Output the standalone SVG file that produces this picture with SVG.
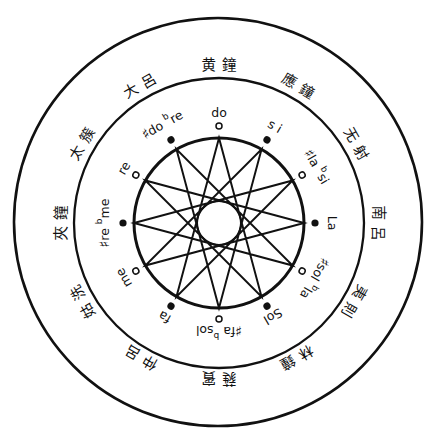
<svg xmlns="http://www.w3.org/2000/svg" width="440" height="436" viewBox="0 0 440 436">
<style>
.ring{fill:none;stroke:#111;}
.star{fill:none;stroke:#111;stroke-width:2;stroke-linejoin:miter;}
.full{fill:#111;}
.open{fill:#fff;stroke:#111;stroke-width:1.5;}
.sf{font-family:"DejaVu Sans","Liberation Sans",sans-serif;font-size:12.5px;fill:#111;text-anchor:middle;dominant-baseline:central;}
.sh{font-size:14px;font-weight:bold;}
.sup{font-size:9px;}
.cn{font-family:"Noto Sans CJK TC","Noto Sans CJK JP","Noto Sans CJK SC",sans-serif;font-size:14.5px;fill:#111;text-anchor:middle;dominant-baseline:central;}
</style>
<rect width="440" height="436" fill="#fff"/>
<g id="rings">
<circle class="ring" cx="218" cy="222" r="204" stroke-width="2.6"/>
<circle class="ring" cx="219" cy="223" r="145" stroke-width="2.3"/>
<circle class="ring" cx="219" cy="223" r="85" stroke-width="3"/>
<circle class="ring" cx="219" cy="223" r="22" stroke-width="2"/>
</g>
<g id="connectors">
<polygon class="star" points="219,138 261.5,296.61 145.39,180.5 304,223 145.39,265.5 261.5,149.39 219,308 176.5,149.39 292.61,265.5 134,223 292.61,180.5 176.5,296.61"/>
</g>
<g id="p0">
<circle class="open" cx="219" cy="126" r="3"/>
<text class="sf" transform="translate(219 223) rotate(0) translate(0 -111)">do</text>
<text class="cn" transform="translate(219 223) rotate(0) translate(0 -160)">黄<tspan dx="6">鐘</tspan></text>
</g>
<g id="p1" transform="rotate(30 219 223)">
<circle class="full" cx="219" cy="127" r="3.6"/>
<text class="sf" transform="translate(219 223) translate(0 -112)">s i</text>
<text class="cn" transform="translate(219 223) translate(0 -160)">應<tspan dx="6">鐘</tspan></text>
</g>
<g id="p2" transform="rotate(60 219 223)">
<circle class="open" cx="219" cy="127" r="3"/>
<text class="sf" transform="translate(219 223) translate(0 -113)"><tspan class="sh">♯</tspan>la <tspan class="sup" dy="-5">b</tspan><tspan dy="5">si</tspan></text>
<text class="cn" transform="translate(219 223) translate(0 -160)">无<tspan dx="6">射</tspan></text>
</g>
<g id="p3" transform="rotate(90 219 223)">
<circle class="full" cx="219" cy="127" r="3.6"/>
<text class="sf" transform="translate(219 223) translate(0 -113)">La</text>
<text class="cn" transform="translate(219 223) translate(0 -161)">南<tspan dx="6">呂</tspan></text>
</g>
<g id="p4" transform="rotate(120 219 223)">
<circle class="open" cx="219" cy="127" r="3"/>
<text class="sf" transform="translate(219 223) translate(0 -111)"><tspan class="sh">♯</tspan>sol <tspan class="sup" dy="-5">b</tspan><tspan dy="5">la</tspan></text>
<text class="cn" transform="translate(219 223) translate(0 -158)">夷<tspan dx="6">則</tspan></text>
</g>
<g id="p5" transform="rotate(150 219 223)">
<circle class="full" cx="219" cy="127" r="3.6"/>
<text class="sf" transform="translate(219 223) translate(0 -108)">Sol</text>
<text class="cn" transform="translate(219 223) translate(0 -157)">林<tspan dx="6">鐘</tspan></text>
</g>
<g id="p6" transform="rotate(180 219 223)">
<circle class="open" cx="219" cy="127" r="3"/>
<text class="sf" transform="translate(219 223) translate(0 -108)"><tspan class="sh">♯</tspan>fa <tspan class="sup" dy="-5">b</tspan><tspan dy="5">sol</tspan></text>
<text class="cn" transform="translate(219 223) translate(0 -157)">蕤<tspan dx="6">賓</tspan></text>
</g>
<g id="p7" transform="rotate(210 219 223)">
<circle class="full" cx="219" cy="127" r="3.6"/>
<text class="sf" transform="translate(219 223) translate(0 -109)">fa</text>
<text class="cn" transform="translate(219 223) translate(0 -157)">仲<tspan dx="6">呂</tspan></text>
</g>
<g id="p8" transform="rotate(240 219 223)">
<circle class="open" cx="219" cy="127" r="3"/>
<text class="sf" transform="translate(219 223) translate(0 -110)">me</text>
<text class="cn" transform="translate(219 223) translate(0 -159)">姑<tspan dx="6">洗</tspan></text>
</g>
<g id="p9" transform="rotate(270 219 223)">
<circle class="full" cx="219" cy="127" r="3.6"/>
<text class="sf" transform="translate(219 223) translate(0 -115)"><tspan class="sh">♯</tspan>re <tspan class="sup" dy="-5">b</tspan><tspan dy="5">me</tspan></text>
<text class="cn" transform="translate(219 223) translate(0 -160)">夾<tspan dx="6">鐘</tspan></text>
</g>
<g id="p10" transform="rotate(300 219 223)">
<circle class="open" cx="219" cy="127" r="3"/>
<text class="sf" transform="translate(219 223) translate(0 -110)">re</text>
<text class="cn" transform="translate(219 223) translate(0 -160)">太<tspan dx="6">簇</tspan></text>
</g>
<g id="p11" transform="rotate(330 219 223)">
<circle class="full" cx="219" cy="127" r="3.6"/>
<text class="sf" transform="translate(219 223) translate(0 -114)"><tspan class="sh">♯</tspan>do <tspan class="sup" dy="-5">b</tspan><tspan dy="5">re</tspan></text>
<text class="cn" transform="translate(219 223) translate(0 -160)">大<tspan dx="6">呂</tspan></text>
</g>
</svg>
